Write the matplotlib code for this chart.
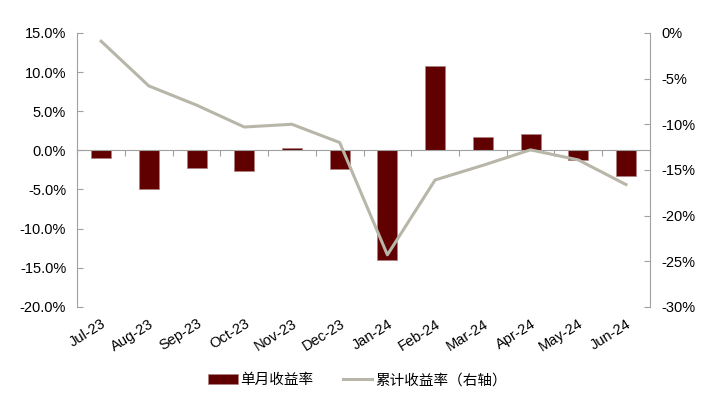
import numpy as np
import matplotlib
matplotlib.use('Agg')
from matplotlib import pyplot as plt
from matplotlib.ticker import FuncFormatter

months = ['Jul-23', 'Aug-23', 'Sep-23', 'Oct-23', 'Nov-23', 'Dec-23',
          'Jan-24', 'Feb-24', 'Mar-24', 'Apr-24', 'May-24', 'Jun-24']
monthly = [-1.0, -4.9, -2.2, -2.7, 0.3, -2.4, -14.0, 10.8, 1.7, 2.05, -1.2, -3.25]
cumulative = [-0.9, -5.8, -7.9, -10.3, -10.0, -12.0, -24.3, -16.1, -14.5, -12.8, -13.9, -16.6]

bar_color = '#600000'
line_color = '#B8B6A8'
spine_color = '#A0A0A0'

plt.rcParams['font.family'] = ['Liberation Sans', 'Noto Sans CJK SC']
plt.rcParams['font.size'] = 10.5

fig = plt.figure(figsize=(7.22, 4.07), dpi=100, facecolor='w')
ax = fig.add_axes([0.107, 0.246, 0.793, 0.673])
x = np.arange(len(months))

bars = ax.bar(x, monthly, width=0.42, color=bar_color, edgecolor='#B08080',
              linewidth=0.5, label='单月收益率', zorder=2)
ax.set_xlim(-0.5, len(months) - 0.5)
ax.set_ylim(-20, 15)
ax.set_yticks(np.arange(-20, 15.1, 5))
ax.yaxis.set_major_formatter(FuncFormatter(lambda v, p: f'{v:.1f}%'))

ax2 = ax.twinx()
ln, = ax2.plot(x, cumulative, color=line_color, linewidth=2.2, label='累计收益率（右轴）', zorder=3)
ax2.set_ylim(-30, 0)
ax2.set_yticks(np.arange(-30, 0.1, 5))
ax2.yaxis.set_major_formatter(FuncFormatter(lambda v, p: f'{v:.0f}%'))

for a in (ax, ax2):
    a.spines['top'].set_visible(False)
    for s in ('left', 'right', 'bottom'):
        a.spines[s].set_color(spine_color)
    a.tick_params(axis='y', direction='in', length=4, color=spine_color, labelsize=10.5, pad=8)

ax2.spines['bottom'].set_visible(False)
ax2.spines['left'].set_visible(False)
ax.spines['right'].set_visible(False)

# zero line with ticks between categories
ax.spines['bottom'].set_position(('data', 0))
ax.set_xticks(np.arange(-0.5, len(months), 1))
ax.set_xticklabels([])
ax.tick_params(axis='x', direction='out', length=4, color=spine_color)

sec = ax.secondary_xaxis('bottom')
sec.set_xticks(x)
sec.set_xticklabels(months, rotation=32, ha='right', rotation_mode='anchor')
sec.tick_params(length=0, labelsize=10.5, pad=7)
sec.spines['bottom'].set_visible(False)

fig.legend([bars, ln], ['单月收益率', '累计收益率（右轴）'], loc='center',
           bbox_to_anchor=(0.495, 0.066), ncol=2, frameon=False,
           prop={'family': ['Noto Sans CJK SC'], 'size': 10.5},
           handlelength=2.0, handleheight=0.6, columnspacing=2.0, handletextpad=0.2)

fig.savefig('out.png', dpi=100)
